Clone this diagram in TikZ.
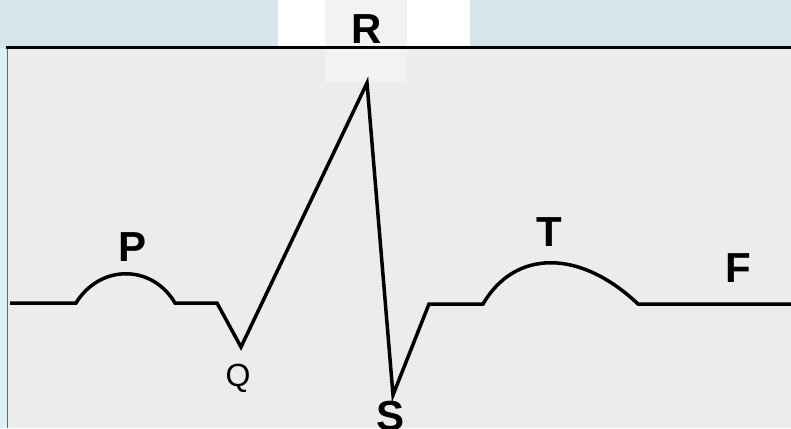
\documentclass[tikz,border=0pt]{standalone}
\usepackage{fontspec}
\setmainfont{Liberation Sans}
\definecolor{bgblue}{HTML}{D4E6EB}
\definecolor{sideblue}{HTML}{DCEFF4}
\definecolor{panel}{HTML}{ECECEC}
\definecolor{patch}{HTML}{F2F2F2}
\tikzset{
  wavelabel/.style={inner sep=0pt, anchor=base, font=\fontsize{42}{42}\selectfont\bfseries},
  smalllabel/.style={inner sep=0pt, anchor=base, font=\fontsize{32}{32}\selectfont},
  wave/.style={line width=3.5pt, line join=miter, black}
}
\begin{document}
\begin{tikzpicture}[x=1pt,y=-1pt]
\useasboundingbox (0,0) rectangle (791,428);
% backgrounds
\fill[bgblue] (0,0) rectangle (791,428);
\fill[sideblue] (0,48) rectangle (7,428);
\fill[white] (278,0) rectangle (470,48);
\fill[panel] (7,48) rectangle (791,428);
\fill[patch] (325,0) rectangle (407,82);
\draw[line width=0.8pt, black!60] (7,48) -- (7,428);
\draw[line width=3pt, black] (6,47.5) -- (791,47.5);
% waveform points
\coordinate (s0) at (10,303);
\coordinate (p0) at (76,303);
\coordinate (p1) at (175,303);
\coordinate (q0) at (217,303);
\coordinate (q) at (241,347);
\coordinate (r) at (367,83);
\coordinate (s) at (393,395);
\coordinate (s1) at (429,304);
\coordinate (t0) at (483,304);
\coordinate (t1) at (638,304);
\coordinate (e) at (791,304);
\draw[wave] (s0) -- (p0) .. controls (100,264) and (152,264) .. (p1) -- (q0) -- (q) -- (r) -- (s) -- (s1) -- (t0) .. controls (515,249) and (580,249) .. (t1) -- (e);
% labels
\node[wavelabel] (lp) at (133,261) {P};
\node[wavelabel] (lr) at (367,44) {R};
\node[wavelabel] (lt) at (549,246) {T};
\node[wavelabel] (lf) at (738,282) {F};
\node[wavelabel] (ls) at (390,430) {S};
\node[smalllabel] (lq) at (238,386) {Q};
\end{tikzpicture}
\end{document}
